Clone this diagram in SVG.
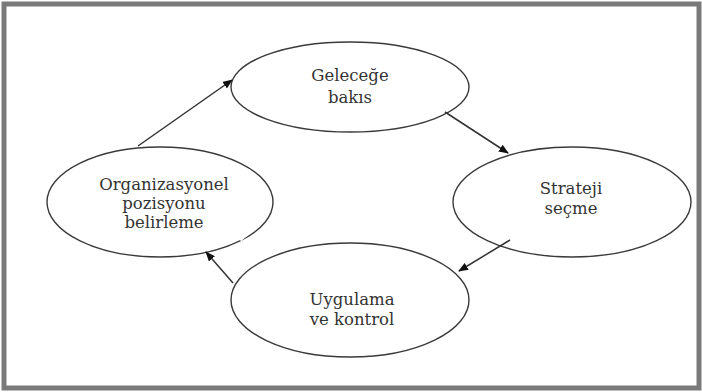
<svg xmlns="http://www.w3.org/2000/svg" width="702" height="392" viewBox="0 0 702 392">
<style>
.node ellipse{fill:#fff;stroke:#3a3a3a;stroke-width:1.4}
.lbl{font-family:'DejaVu Serif',serif;font-size:16.5px;fill:#333;text-anchor:middle}
.conn line{stroke:#333;stroke-width:1.5;marker-end:url(#ah)}
</style>
<defs>
<marker id="ah" viewBox="0 0 10 8" refX="9" refY="4" markerWidth="10" markerHeight="8" markerUnits="userSpaceOnUse" orient="auto">
<path d="M0,0 L10,4 L0,8 z" fill="#111"/>
</marker>
</defs>
<rect x="0" y="0" width="702" height="392" fill="#fff"/>
<rect x="4" y="4" width="695" height="384" fill="none" stroke="#7a7a7a" stroke-width="5"/>
<g id="node-gelecege" class="node">
<ellipse cx="350" cy="87" rx="119" ry="45"/>
<text class="lbl" x="350" y="81">Geleceğe</text>
<text class="lbl" x="350" y="103">bakıs</text>
</g>
<g id="node-strateji" class="node">
<ellipse cx="572" cy="202" rx="119" ry="55"/>
<text class="lbl" x="571" y="194">Strateji</text>
<text class="lbl" x="571" y="214">seçme</text>
</g>
<g id="node-uygulama" class="node">
<ellipse cx="350" cy="300" rx="119" ry="57"/>
<text class="lbl" x="352" y="305">Uygulama</text>
<text class="lbl" x="352" y="325">ve kontrol</text>
</g>
<g id="node-organizasyonel" class="node">
<ellipse cx="160" cy="202" rx="113" ry="55"/>
<line x1="240" y1="240" x2="247" y2="234" stroke="#fff" stroke-width="3"/>
<text class="lbl" x="164" y="190">Organizasyonel</text>
<text class="lbl" x="164" y="209">pozisyonu</text>
<text class="lbl" x="164" y="228">belirleme</text>
</g>
<g id="connectors" class="conn">
<line x1="138" y1="146" x2="232" y2="80"/>
<line x1="445" y1="112" x2="508" y2="153"/>
<line x1="510" y1="240" x2="459" y2="271"/>
<line x1="233" y1="283" x2="206" y2="252"/>
</g>
</svg>
